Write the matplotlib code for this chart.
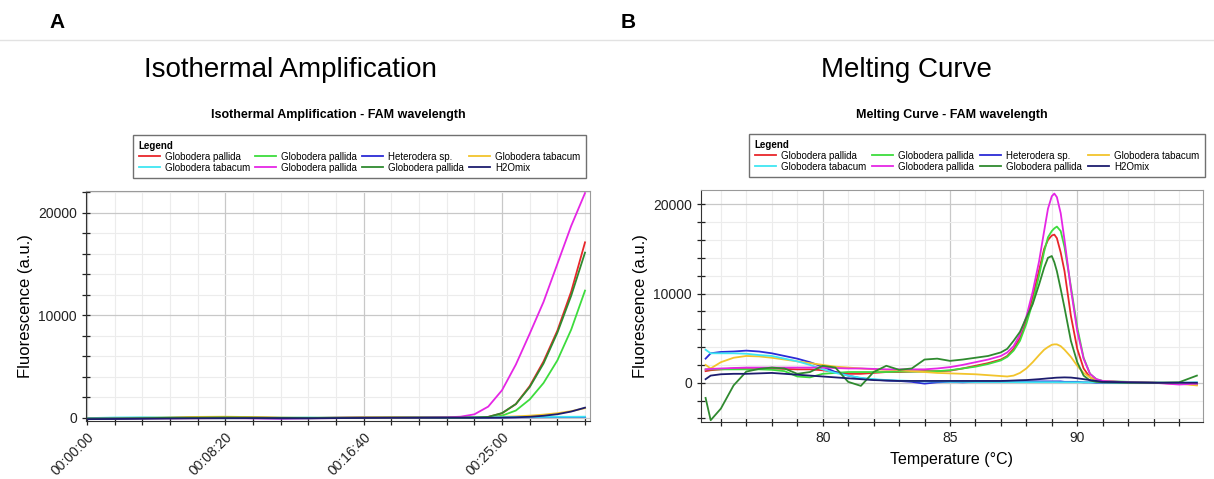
import matplotlib
matplotlib.use('Agg')
import matplotlib.pyplot as plt
from matplotlib.ticker import MultipleLocator
from matplotlib.lines import Line2D

plt.rcParams['font.family'] = ['Liberation Sans', 'DejaVu Sans']

W, H = 1214, 479

# legend entries (same for both panels)
names = ['Globodera pallida', 'Globodera pallida', 'Heterodera sp.', 'Globodera tabacum',
         'Globodera tabacum', 'Globodera pallida', 'Globodera pallida', 'H2Omix']
colors = ['#e8262b', '#3ddc3d', '#2b2bd6', '#f2c42c',
          '#3fe6f2', '#e526e5', '#2f8a2f', '#1c1c6e']

# panel A: isothermal amplification, time in seconds
time_s = [0, 100, 200, 300, 400, 500, 600, 700, 800, 900, 1000, 1100, 1200,
          1250, 1300, 1350, 1400, 1450, 1500, 1550, 1600, 1650, 1700, 1750, 1800]
time_ticks = [0, 500, 1000, 1500]
time_labels = ['00:00:00', '00:08:20', '00:16:40', '00:25:00']
amp_red = [-60, -50, -30, 0, 40, 60, 40, 0, -20, -10, 0, 20, 30,
           30, 30, 30, 40, 100, 450, 1350, 3100, 5500, 8500, 12300, 17100]
amp_green = [-80, -60, -40, -20, 0, 30, 20, -10, -30, 0, 10, 20, 20,
             20, 20, 20, 20, 50, 220, 720, 1800, 3400, 5600, 8600, 12400]
amp_blue = [-100, -60, -20, 20, 60, 20, -30, -60, -20, 40, 80, 40, 20,
            30, 50, 60, 50, 40, 40, 50, 60, 70, 80, 80, 90]
amp_yellow = [-50, -20, 20, 60, 100, 120, 80, 40, 20, 40, 60, 60, 50,
              50, 60, 70, 80, 90, 110, 150, 220, 320, 460, 660, 950]
amp_cyan = [-20, 40, 60, 30, -10, -30, -20, 20, 40, 10, -10, 0, 20,
            30, 40, 50, 60, 70, 80, 90, 100, 100, 110, 110, 120]
amp_magenta = [-70, -60, -50, -40, -30, -20, -40, -60, -40, -20, -10, 0, 20,
               40, 60, 120, 350, 1100, 2700, 5200, 8200, 11300, 15000, 18700, 21900]
amp_dkgreen = [-50, -40, -20, 10, 30, 50, 30, 10, -10, 0, 10, 20, 30,
               30, 30, 30, 40, 100, 470, 1350, 3000, 5300, 8300, 11900, 16100]
amp_navy = [-120, -100, -80, -60, -40, -30, -20, -30, -40, -20, 0, 20, 20,
            20, 20, 20, 20, 20, 30, 60, 110, 210, 360, 620, 1000]

# panel B: melting curve
temp_c = [75.4, 75.6, 76.0, 76.5, 77.0, 77.5, 78.0, 78.5, 79.0, 79.5,
          80.0, 80.5, 81.0, 81.5, 82.0, 82.5, 83.0, 83.5, 84.0, 84.5,
          85.0, 85.5, 86.0, 86.5, 87.0, 87.25, 87.5, 87.75, 88.0, 88.25,
          88.5, 88.7, 88.85, 89.0, 89.1, 89.2, 89.35, 89.5, 89.75, 90.0,
          90.25, 90.5, 90.75, 91.0, 92.0, 93.0, 94.0, 94.7]
mc_red = [1300, 1400, 1500, 1600, 1650, 1650, 1600, 1550, 1500, 1500,
          1400, 1200, 1000, 1000, 1100, 1200, 1200, 1250, 1300, 1300,
          1350, 1600, 1900, 2200, 2600, 3000, 3800, 5000, 7000, 9600,
          12600, 15000, 16000, 16500, 16600, 16200, 14600, 12500, 7500, 3800,
          1600, 600, 300, 150, 50, 0, -100, -200]
mc_green = [1500, 1500, 1500, 1500, 1500, 1500, 1450, 1300, 700, 600,
            1000, 1100, 1200, 1200, 1200, 1200, 1250, 1250, 1250, 1300,
            1400, 1600, 1800, 2100, 2500, 2900, 3600, 4700, 6600, 9000,
            12000, 14700, 16300, 17000, 17300, 17500, 17000, 15200, 10800, 6200,
            2800, 1000, 400, 200, 100, 0, -50, -150]
mc_blue = [2700, 3300, 3450, 3500, 3600, 3500, 3300, 3000, 2700, 2300,
           1800, 1200, 800, 500, 350, 250, 200, 100, -100, 50,
           100, 50, 100, 100, 100, 100, 150, 150, 150, 150,
           150, 150, 150, 150, 150, 150, 150, 100, 100, 100,
           50, 50, 0, 0, 0, 0, -50, -100]
mc_yellow = [2000, 1600, 2300, 2800, 3000, 2950, 2800, 2600, 2400, 2200,
             2000, 1800, 1700, 1600, 1500, 1450, 1400, 1300, 1200, 1100,
             1050, 1000, 950, 850, 750, 700, 800, 1100, 1600, 2300,
             3100, 3700, 4000, 4250, 4300, 4300, 4100, 3700, 2900, 1900,
             1100, 600, 300, 150, 50, 0, -100, -300]
mc_cyan = [3700, 3300, 3300, 3300, 3250, 3100, 3000, 2700, 2400, 2000,
           1500, 1100, 800, 550, 400, 300, 250, 200, 150, 150,
           100, 100, 80, 80, 80, 70, 70, 60, 60, 60,
           60, 60, 60, 60, 60, 60, 50, 50, 50, 50,
           50, 40, 40, 30, 20, 0, 0, 50]
mc_magenta = [1500, 1550, 1600, 1650, 1700, 1700, 1700, 1700, 1700, 1700,
              1700, 1650, 1600, 1600, 1550, 1500, 1500, 1500, 1500, 1600,
              1750, 2000, 2300, 2600, 3000, 3400, 4100, 5400, 7400, 10200,
              13600, 17000, 19500, 20900, 21200, 20800, 19000, 16000, 10500, 5800,
              2700, 1000, 400, 200, 50, 0, -200, -100]
mc_dkgreen = [-1700, -4200, -2900, -300, 1250, 1550, 1700, 1600, 1000, 1200,
              1900, 1700, 100, -350, 1200, 1900, 1450, 1600, 2600, 2700,
              2450, 2600, 2800, 3000, 3400, 3800, 4700, 5700, 7300, 8800,
              11000, 12900, 14000, 14200, 13500, 12500, 10500, 8400, 4700, 2300,
              800, 250, 100, 50, 0, 0, 50, 800]
mc_navy = [400, 800, 950, 1000, 1000, 1050, 1100, 1000, 900, 800,
           700, 600, 500, 400, 300, 250, 200, 200, 200, 200,
           200, 200, 200, 200, 200, 220, 250, 280, 300, 350,
           400, 450, 490, 520, 550, 570, 585, 600, 580, 500,
           400, 300, 200, 100, 50, 0, 0, 0]

amp_series = [amp_red, amp_green, amp_blue, amp_yellow, amp_cyan, amp_magenta, amp_dkgreen, amp_navy]
mc_series = [mc_red, mc_green, mc_blue, mc_yellow, mc_cyan, mc_magenta, mc_dkgreen, mc_navy]


def box(x0, y0, x1, y1):
    # pixel box (top-left origin) -> figure fraction rect
    return [x0 / W, 1 - y1 / H, (x1 - x0) / W, (y1 - y0) / H]


def style_axes(ax):
    ax.grid(which='major', color='#c8c8c8', lw=0.9)
    ax.grid(which='minor', color='#ececec', lw=0.8)
    ax.set_axisbelow(True)
    for s in ['top', 'right']:
        ax.spines[s].set_color('#9a9a9a')
    for s in ['left', 'bottom']:
        ax.spines[s].set_color('#333333')
    ax.tick_params(which='both', direction='inout', length=6, width=0.9,
                   labelsize=10, colors='#222222')
    ax.tick_params(axis='x', which='both', top=False)
    ax.yaxis.set_minor_locator(MultipleLocator(2000))
    ax.set_ylabel('Fluorescence (a.u.)', fontsize=12)


def add_legend(fig, x0, y0, x1, y1):
    handles = [Line2D([], [], color=c, lw=1.3) for c in colors]
    order = [0, 4, 1, 5, 2, 6, 3, 7]
    r = box(x0, y0, x1, y1)
    leg = fig.legend([handles[i] for i in order], [names[i] for i in order],
                     loc='upper left', bbox_to_anchor=(r[0], r[1], r[2], r[3]),
                     mode='expand', ncol=4, fontsize=7, title='Legend',
                     title_fontproperties={'weight': 'bold', 'size': 7},
                     alignment='left', frameon=True, fancybox=False,
                     edgecolor='#707070', framealpha=1, handlelength=2.2,
                     handletextpad=0.5, borderpad=0.6, labelspacing=0.1)
    leg.get_frame().set_linewidth(1.0)


fig = plt.figure(figsize=(W / 100, H / 100), dpi=100)

# header line and panel letters
fig.add_artist(Line2D([0, 1], [1 - 40 / H, 1 - 40 / H], color='#e2e2e2', lw=1))
fig.text(57 / W, 1 - 22 / H, 'A', fontsize=15, fontweight='bold', ha='center', va='center')
fig.text(628 / W, 1 - 22 / H, 'B', fontsize=15, fontweight='bold', ha='center', va='center')
fig.text(290 / W, 1 - 70 / H, 'Isothermal Amplification', fontsize=20, ha='center', va='center')
fig.text(906 / W, 1 - 70 / H, 'Melting Curve', fontsize=20, ha='center', va='center')

# panel A
ax1 = fig.add_axes(box(86, 191, 590, 421))
for y, c in zip(amp_series, colors):
    ax1.plot(time_s, y, color=c, lw=1.3)
ax1.set_xlim(-4, 1818)
ax1.set_ylim(-300, 22100)
ax1.set_xticks(time_ticks)
ax1.set_xticklabels(time_labels, rotation=45, ha='right', va='top', rotation_mode='anchor')
ax1.xaxis.set_minor_locator(MultipleLocator(100))
ax1.set_yticks([0, 10000, 20000])
style_axes(ax1)
fig.text(338 / W, 1 - 115 / H, 'Isothermal Amplification - FAM wavelength',
         fontsize=9, fontweight='bold', ha='center', va='center')
add_legend(fig, 128, 130, 591, 177)

# panel B
ax2 = fig.add_axes(box(701, 190, 1203, 422))
for y, c in zip(mc_series, colors):
    ax2.plot(temp_c, y, color=c, lw=1.3)
ax2.set_xlim(75.22, 94.94)
ax2.set_ylim(-4400, 21600)
ax2.set_xticks([80, 85, 90])
ax2.xaxis.set_minor_locator(MultipleLocator(1))
ax2.set_yticks([0, 10000, 20000])
style_axes(ax2)
ax2.set_xlabel('Temperature (°C)', fontsize=11.5, labelpad=5)
fig.text(952 / W, 1 - 115 / H, 'Melting Curve - FAM wavelength',
         fontsize=9, fontweight='bold', ha='center', va='center')
add_legend(fig, 744, 129, 1210, 176)

fig.savefig('out.png', dpi=100)
